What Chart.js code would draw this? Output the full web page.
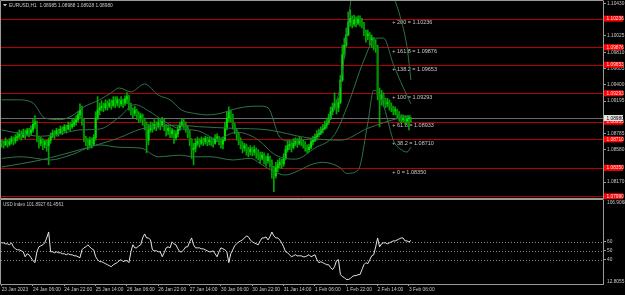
<!DOCTYPE html>
<html>
<head>
<meta charset="utf-8">
<script src="https://cdn.jsdelivr.net/npm/chart.js@4.4.1/dist/chart.umd.min.js"></script>
<style>
  html, body { margin: 0; padding: 0; background: #000; }
  #wrap { position: relative; width: 625px; height: 295px; background: #000; overflow: hidden; }
  #wrap canvas { position: absolute; left: 0; }
  #mainChart { top: 0; }
  #subChart { top: 199px; }
</style>
</head>
<body>
<div id="wrap">
  <canvas id="mainChart" width="625" height="199"></canvas>
  <canvas id="subChart" width="625" height="96"></canvas>
</div>
<script>
// EURUSD H1, one entry per bar (bar 0 = 23 Jan 14:00)
const closes = [
  1.0866,1.0864,1.0869,1.0865,1.0868,1.0872,1.0869,1.0873,1.0875,1.0878,
  1.0874,1.0879,1.0877,1.0882,1.0879,1.0883,1.0890,1.0893,1.0873,1.0866,
  1.0870,1.0864,1.0868,1.0863,1.0870,1.0875,1.0879,1.0877,1.0882,1.0879,
  1.0884,1.0882,1.0887,1.0884,1.0889,1.0887,1.0890,1.0893,1.0896,1.0902,
  1.0908,1.0896,1.0873,1.0868,1.0864,1.0870,1.0865,1.0873,1.0898,1.0908,
  1.0911,1.0913,1.0911,1.0916,1.0913,1.0917,1.0914,1.0920,1.0917,1.0921,
  1.0916,1.0920,1.0917,1.0922,1.0925,1.0916,1.0908,1.0904,1.0908,1.0902,
  1.0898,1.0901,1.0896,1.0890,1.0870,1.0883,1.0888,1.0885,1.0890,1.0887,
  1.0892,1.0889,1.0894,1.0888,1.0882,1.0885,1.0878,1.0882,1.0873,1.0878,
  1.0884,1.0889,1.0893,1.0890,1.0885,1.0879,1.0870,1.0858,1.0860,1.0866,
  1.0869,1.0866,1.0870,1.0868,1.0872,1.0868,1.0870,1.0869,1.0866,1.0872,
  1.0874,1.0869,1.0865,1.0870,1.0885,1.0898,1.0906,1.0901,1.0889,1.0883,
  1.0878,1.0870,1.0865,1.0860,1.0863,1.0858,1.0855,1.0859,1.0855,1.0858,
  1.0854,1.0851,1.0847,1.0851,1.0846,1.0844,1.0849,1.0842,1.0835,1.0825,
  1.0835,1.0839,1.0842,1.0840,1.0847,1.0858,1.0863,1.0865,1.0861,1.0866,
  1.0869,1.0866,1.0870,1.0868,1.0865,1.0860,1.0858,1.0861,1.0868,1.0870,
  1.0874,1.0877,1.0879,1.0883,1.0885,1.0889,1.0893,1.0898,1.0906,1.0911,
  1.0916,1.0911,1.0918,1.0946,1.0978,1.0990,1.1003,1.1019,1.1024,1.1017,
  1.1022,1.1018,1.1023,1.1021,1.1017,1.1007,1.1002,1.1004,1.0997,1.0999,
  1.0990,1.0987,1.0927,1.0921,1.0927,1.0921,1.0916,1.0918,1.0913,1.0911,
  1.0907,1.0908,1.0903,1.0899,1.0896,1.0898,1.0894,1.0897,1.08985,1.0898
];
const highs = [
  1.0870,1.0869,1.0873,1.0870,1.0872,1.0875,1.0874,1.0877,1.0880,1.0883,
  1.0882,1.0884,1.0883,1.0885,1.0885,1.0888,1.0896,1.0901,1.0894,1.0875,
  1.0874,1.0872,1.0870,1.0870,1.0873,1.0879,1.0883,1.0882,1.0885,1.0884,
  1.0888,1.0887,1.0890,1.0889,1.0893,1.0892,1.0896,1.0897,1.0901,1.0906,
  1.0916,1.0913,1.0898,1.0875,1.0872,1.0874,1.0873,1.0877,1.0906,1.0925,
  1.0917,1.0920,1.0917,1.0921,1.0920,1.0922,1.0921,1.0925,1.0925,1.0925,
  1.0922,1.0925,1.0922,1.0926,1.0930,1.0927,1.0917,1.0911,1.0913,1.0909,
  1.0906,1.0904,1.0903,1.0898,1.0893,1.0890,1.0893,1.0892,1.0896,1.0893,
  1.0898,1.0896,1.0899,1.0897,1.0890,1.0889,1.0887,1.0885,1.0883,1.0882,
  1.0888,1.0893,1.0897,1.0896,1.0893,1.0888,1.0882,1.0872,1.0866,1.0872,
  1.0874,1.0872,1.0874,1.0873,1.0875,1.0874,1.0874,1.0873,1.0872,1.0877,
  1.0878,1.0875,1.0872,1.0874,1.0893,1.0906,1.0912,1.0908,1.0903,1.0892,
  1.0885,1.0880,1.0873,1.0868,1.0866,1.0865,1.0861,1.0863,1.0861,1.0863,
  1.0860,1.0858,1.0855,1.0855,1.0854,1.0850,1.0853,1.0850,1.0845,1.0837,
  1.0842,1.0845,1.0847,1.0846,1.0853,1.0863,1.0869,1.0870,1.0868,1.0872,
  1.0873,1.0872,1.0874,1.0873,1.0870,1.0868,1.0864,1.0865,1.0872,1.0875,
  1.0878,1.0882,1.0884,1.0887,1.0890,1.0894,1.0898,1.0903,1.0912,1.0917,
  1.0930,1.0921,1.0923,1.0952,1.0990,1.0999,1.1012,1.1032,1.1035,1.1027,
  1.1028,1.1026,1.1027,1.1027,1.1024,1.1019,1.1009,1.1009,1.1006,1.1003,
  1.1000,1.0997,1.0990,1.0936,1.0933,1.0930,1.0923,1.0923,1.0921,1.0917,
  1.0913,1.0912,1.0909,1.0906,1.0902,1.0902,1.0901,1.0901,1.0901,1.08988
];
const lows = [
  1.0861,1.0860,1.0863,1.0861,1.0863,1.0865,1.0864,1.0866,1.0869,1.0872,
  1.0870,1.0873,1.0872,1.0875,1.0874,1.0877,1.0880,1.0885,1.0868,1.0860,
  1.0863,1.0858,1.0860,1.0856,1.0839,1.0866,1.0873,1.0872,1.0875,1.0875,
  1.0878,1.0877,1.0880,1.0879,1.0883,1.0882,1.0885,1.0887,1.0889,1.0893,
  1.0898,1.0889,1.0868,1.0863,1.0858,1.0860,1.0860,1.0863,1.0870,1.0896,
  1.0902,1.0907,1.0906,1.0908,1.0908,1.0911,1.0909,1.0912,1.0911,1.0913,
  1.0911,1.0913,1.0911,1.0914,1.0916,1.0908,1.0902,1.0898,1.0901,1.0896,
  1.0892,1.0893,1.0889,1.0883,1.0854,1.0864,1.0880,1.0880,1.0883,1.0882,
  1.0885,1.0883,1.0887,1.0882,1.0875,1.0877,1.0873,1.0873,1.0866,1.0870,
  1.0874,1.0882,1.0887,1.0885,1.0880,1.0873,1.0863,1.0847,1.0839,1.0855,
  1.0863,1.0861,1.0864,1.0863,1.0865,1.0863,1.0864,1.0863,1.0861,1.0865,
  1.0868,1.0864,1.0860,1.0859,1.0869,1.0883,1.0893,1.0893,1.0884,1.0878,
  1.0870,1.0864,1.0859,1.0854,1.0856,1.0851,1.0849,1.0851,1.0850,1.0851,
  1.0847,1.0845,1.0841,1.0845,1.0840,1.0837,1.0841,1.0836,1.0822,1.0805,
  1.0822,1.0830,1.0835,1.0834,1.0837,1.0845,1.0855,1.0858,1.0855,1.0859,
  1.0863,1.0861,1.0864,1.0863,1.0860,1.0856,1.0854,1.0855,1.0859,1.0864,
  1.0868,1.0870,1.0874,1.0877,1.0879,1.0883,1.0885,1.0890,1.0896,1.0902,
  1.0908,1.0903,1.0906,1.0916,1.0944,1.0974,1.0988,1.1002,1.1014,1.1012,
  1.1014,1.1013,1.1016,1.1014,1.1012,1.1002,1.0994,1.0997,1.0990,1.0987,
  1.0984,1.0981,1.0921,1.0887,1.0914,1.0913,1.0911,1.0912,1.0908,1.0906,
  1.0902,1.0902,1.0898,1.0894,1.0892,1.0893,1.0890,1.0892,1.0883,1.08928
];
const firstOpen = 1.0869;

// Bollinger bands and slow MA, read at a few bars each
const upperBars = [0,8,16,22,30,36,42,50,56,60,66,73,80,86,92,98,105,112,117,124,132,136,142,147,153,160,165,170,173,176,178,180,190,196,200,204,207,209];
const upperBand = [1.0921,1.0921,1.0917,1.0898,1.0896,1.0901,1.0912,1.0921,1.0930,1.0936,1.0931,1.0941,1.0927,1.0921,1.0908,1.0904,1.0902,1.0904,1.0908,1.0912,1.0913,1.0911,1.0874,1.0869,1.0870,1.0875,1.0889,1.0911,1.0940,1.0997,1.1041,1.1072,1.1075,1.1072,1.1052,1.1022,1.0988,1.0946];
const middleBars = [0,10,20,30,40,50,60,68,75,83,90,100,110,120,130,140,150,160,170,177,185,191,195,200,205,209];
const middleBand = [1.0883,1.0878,1.0875,1.0878,1.0883,1.0884,1.0899,1.0915,1.0907,1.0894,1.0885,1.0882,1.0872,1.0880,1.0872,1.0851,1.0846,1.0860,1.0877,1.0916,1.0971,1.0999,1.0999,1.0966,1.0937,1.0916];
const lowerBars = [0,10,25,35,50,60,71,80,91,98,107,118,127,133,139,145,152,158,164,173,176,182,187,190,193,196,200,204,207,209];
const lowerBand = [1.0847,1.0849,1.0845,1.0851,1.0864,1.0861,1.0860,1.0849,1.0851,1.0849,1.0849,1.0845,1.0847,1.0839,1.0830,1.0826,1.0832,1.0839,1.0842,1.0835,1.0828,1.0832,1.0892,1.0933,1.0927,1.0906,1.0870,1.0858,1.0855,1.0861];
const slowBars = [0,20,40,60,71,90,101,118,136,156,173,187,203,209];
const slowMA = [1.0836,1.0845,1.0858,1.0873,1.0884,1.0889,1.0887,1.0885,1.0883,1.0873,1.0870,1.0885,1.0898,1.0901];

// Fibonacci levels
const fibLevels = ['200','161.8','138.2','100','61.8','38.2','0','-38.2'];
const fibPrices = [1.10236,1.09876,1.09653,1.09293,1.08933,1.08710,1.08350,1.07990];
const fibTextBar = 199.5;

// price axis labels
const priceTicks = [1.10430,1.10025,1.09810,1.09605,1.09400,1.09195,1.08785,1.08580,1.08170];

// USD index oscillator, one value per bar
const usdOsc = [
  58.9,58.9,57.8,57.8,56.7,58.9,54.4,52.2,51.1,51.1,
  50.0,48.9,43.3,46.7,45.6,42.2,38.9,36.7,48.9,54.4,
  55.6,56.7,58.9,64.4,71.1,48.9,48.9,47.8,48.9,47.8,
  47.8,46.7,46.7,45.6,46.7,45.6,45.6,44.4,44.4,43.3,
  42.2,51.1,53.3,54.4,56.7,54.4,52.2,51.1,43.3,40.0,
  37.8,37.8,36.7,35.6,34.4,33.3,32.2,34.4,35.6,36.7,
  38.9,40.0,37.8,38.9,38.9,36.7,48.9,56.7,53.3,53.3,
  55.6,56.7,64.4,68.9,64.4,64.4,62.2,51.1,50.0,50.0,
  48.9,48.9,43.3,47.8,53.3,54.4,53.3,60.0,57.8,56.7,
  52.2,48.9,48.9,51.1,54.4,54.4,60.0,64.4,56.7,53.3,
  53.3,53.3,52.2,52.2,51.1,50.0,48.9,48.9,50.0,46.7,
  43.3,48.9,53.3,52.2,51.1,48.9,36.7,46.7,51.1,55.6,
  57.8,60.0,61.1,62.2,64.4,66.7,65.6,62.2,60.0,58.9,
  57.8,56.7,61.1,64.4,64.4,65.6,62.2,65.6,71.1,66.7,
  64.4,64.4,62.2,58.9,54.4,48.9,47.8,45.6,43.3,44.4,
  45.6,44.4,44.4,44.4,43.3,43.3,44.4,45.6,43.3,44.4,
  45.6,40.0,36.7,37.8,36.7,35.6,34.4,34.4,31.1,28.9,
  32.2,38.9,40.0,23.3,21.1,20.0,17.8,17.8,18.9,21.1,
  22.2,22.2,23.3,23.3,28.9,34.4,36.7,35.6,40.0,44.4,
  45.6,54.4,64.4,54.4,57.8,58.9,58.9,57.8,58.9,60.0,
  61.1,61.1,62.2,63.3,64.4,64.4,61.1,61.1,60.0,61.4561
];
const oscLevels = [60, 50, 40];
const oscMax = 106.9068;
const oscMin = 12.8055;
const usdIndexValue = 101.8927;

// time axis
const timeLabels = ['23 Jan 2023','24 Jan 06:00','24 Jan 22:00','25 Jan 14:00','26 Jan 06:00','26 Jan 22:00','27 Jan 14:00','30 Jan 06:00','30 Jan 22:00','31 Jan 14:00','1 Feb 06:00','1 Feb 22:00','2 Feb 14:00','3 Feb 06:00'];
const timeLabelBars = [0,16,32,48,64,80,96,112,128,144,160,176,192,208];

const FONT = '"Liberation Sans", Arial, sans-serif';
const TEXT = '#c8c8c8';
const FRAME = '#9a9a9a';
const BAND = '#2f7446';
const FIB_RED = '#b80000';
const X_MIN = -0.34, X_MAX = 307.1;
const Y_MIN = 1.07969, Y_MAX = 1.10459;

const opens = closes.map((c, i) => (i === 0 ? firstOpen : closes[i - 1]));
const last = closes.length - 1;
const bars = closes.map((_, i) => i);
const toPts = (xs, ys) => xs.map((b, i) => ({ x: b, y: ys[i] }));

function lineSet(xs, ys) {
  return {
    type: 'line',
    data: toPts(xs, ys),
    borderColor: BAND,
    borderWidth: 1,
    pointRadius: 0,
    cubicInterpolationMode: 'monotone',
    order: 0,
  };
}

function hline(ctx, a, py) {
  ctx.beginPath();
  ctx.moveTo(a.left, py);
  ctx.lineTo(a.right, py);
  ctx.stroke();
}

const mainDecor = {
  id: 'mainDecor',
  beforeDatasetsDraw(chart) {
    const { ctx, chartArea: a, scales: { x, y } } = chart;
    ctx.save();
    ctx.beginPath();
    ctx.rect(a.left, a.top, a.right - a.left, a.bottom - a.top);
    ctx.clip();
    ctx.lineWidth = 1;
    ctx.strokeStyle = '#6c6c6c';
    hline(ctx, a, Math.round(y.getPixelForValue(closes[last])) + 0.5);
    ctx.strokeStyle = FIB_RED;
    fibPrices.forEach((p) => hline(ctx, a, Math.round(y.getPixelForValue(p)) + 0.5));
    ctx.fillStyle = TEXT;
    ctx.font = `5.5px ${FONT}`;
    ctx.textAlign = 'left';
    ctx.textBaseline = 'top';
    const tx = x.getPixelForValue(fibTextBar);
    fibLevels.forEach((lv, i) => {
      ctx.fillText(`+ ${lv} = ${fibPrices[i].toFixed(5)}`, tx, y.getPixelForValue(fibPrices[i]) + 1.5);
    });
    ctx.restore();
  },
  afterDraw(chart) {
    const { ctx, chartArea: a, scales: { y } } = chart;
    ctx.save();
    ctx.strokeStyle = FRAME;
    ctx.lineWidth = 1;
    ctx.beginPath();
    ctx.moveTo(0.5, a.bottom + 0.5);
    ctx.lineTo(0.5, 0.5);
    ctx.lineTo(a.right + 0.5, 0.5);
    ctx.moveTo(0, a.bottom + 0.5);
    ctx.lineTo(a.right, a.bottom + 0.5);
    ctx.stroke();

    // header
    ctx.fillStyle = TEXT;
    ctx.beginPath();
    ctx.moveTo(3, 4);
    ctx.lineTo(7, 4);
    ctx.lineTo(5, 6.5);
    ctx.closePath();
    ctx.fill();
    ctx.font = `4.8px ${FONT}`;
    ctx.textBaseline = 'middle';
    ctx.textAlign = 'left';
    const ohlc = [opens[last], highs[last], lows[last], closes[last]].map((v) => v.toFixed(5)).join(' ');
    ctx.fillText(`EURUSD,H1  ${ohlc}`, 9, 5.5);

    // price tags on the axis
    ctx.font = `4.8px ${FONT}`;
    fibPrices.forEach((p) => {
      const py = y.getPixelForValue(p);
      ctx.fillStyle = '#ff0000';
      ctx.fillRect(a.right + 1, py - 3, 19, 6);
      ctx.fillStyle = '#ffe0e0';
      ctx.fillText(p.toFixed(5), a.right + 3.5, py + 0.3);
    });
    const cy = y.getPixelForValue(closes[last]);
    ctx.fillStyle = '#e6e6e6';
    ctx.fillRect(a.right + 1, cy - 3, 19, 6);
    ctx.fillStyle = '#000000';
    ctx.fillText(closes[last].toFixed(5), a.right + 3.5, cy + 0.3);
    ctx.restore();
  },
};

new Chart(document.getElementById('mainChart'), {
  type: 'bar',
  data: {
    datasets: [
      lineSet(slowBars, slowMA),
      lineSet(upperBars, upperBand),
      lineSet(middleBars, middleBand),
      lineSet(lowerBars, lowerBand),
      {
        data: bars.map((i) => ({ x: i, y: [lows[i], highs[i]] })),
        backgroundColor: '#00a800',
        barThickness: 1,
        grouped: false,
        order: 2,
      },
      {
        data: bars.map((i) => ({ x: i, y: [opens[i], closes[i]] })),
        backgroundColor: bars.map((i) => (closes[i] >= opens[i] ? '#00e000' : '#008c00')),
        barThickness: 1.4,
        minBarLength: 1,
        grouped: false,
        order: 1,
      },
    ],
  },
  options: {
    responsive: false,
    animation: false,
    events: [],
    layout: { padding: { left: 1, top: 1, right: 0, bottom: 1 } },
    plugins: { legend: { display: false }, tooltip: { enabled: false } },
    scales: {
      x: { type: 'linear', min: X_MIN, max: X_MAX, offset: false, display: false },
      y: {
        position: 'right',
        min: Y_MIN,
        max: Y_MAX,
        afterBuildTicks: (s) => { s.ticks = priceTicks.map((v) => ({ value: v })); },
        afterFit: (s) => { s.width = 22; s.paddingTop = 0; s.paddingBottom = 0; },
        ticks: {
          autoSkip: false,
          padding: 1,
          color: TEXT,
          font: { family: FONT, size: 4.8 },
          callback: (v) => Number(v).toFixed(5),
        },
        grid: { drawOnChartArea: false, drawTicks: true, tickLength: 3, color: FRAME },
        border: { display: true, color: FRAME },
      },
    },
  },
  plugins: [mainDecor],
});

const subDecor = {
  id: 'subDecor',
  beforeDatasetsDraw(chart) {
    const { ctx, chartArea: a, scales: { y } } = chart;
    ctx.save();
    ctx.strokeStyle = '#8a8a8a';
    ctx.lineWidth = 1;
    ctx.setLineDash([1, 2]);
    oscLevels.forEach((v) => hline(ctx, a, Math.round(y.getPixelForValue(v)) + 0.5));
    ctx.restore();
  },
  afterDraw(chart) {
    const { ctx, chartArea: a } = chart;
    ctx.save();
    ctx.strokeStyle = FRAME;
    ctx.lineWidth = 1;
    ctx.beginPath();
    ctx.moveTo(0.5, a.bottom + 0.5);
    ctx.lineTo(0.5, 0.5);
    ctx.lineTo(a.right + 0.5, 0.5);
    ctx.stroke();
    ctx.fillStyle = TEXT;
    ctx.font = `4.6px ${FONT}`;
    ctx.textAlign = 'left';
    ctx.textBaseline = 'middle';
    ctx.fillText(`USD Index ${usdIndexValue.toFixed(4)} ${usdOsc[last].toFixed(4)}`, 3, 5.5);
    ctx.font = `4.8px ${FONT}`;
    ctx.fillText(oscMax.toFixed(4), a.right + 4, a.top + 2.5);
    ctx.fillText(oscMin.toFixed(4), a.right + 4, a.bottom - 2);
    ctx.restore();
  },
};

new Chart(document.getElementById('subChart'), {
  type: 'line',
  data: {
    datasets: [{
      data: bars.map((i) => ({ x: i, y: usdOsc[i] })),
      borderColor: '#e4e4e4',
      borderWidth: 1,
      pointRadius: 0,
      tension: 0,
    }],
  },
  options: {
    responsive: false,
    animation: false,
    events: [],
    layout: { padding: { left: 1, top: 1, right: 0, bottom: 0 } },
    plugins: { legend: { display: false }, tooltip: { enabled: false } },
    scales: {
      x: {
        type: 'linear',
        min: X_MIN,
        max: X_MAX,
        offset: false,
        afterBuildTicks: (s) => { s.ticks = timeLabelBars.map((v) => ({ value: v })); },
        afterFit: (s) => { s.height = 11; s.paddingLeft = 0; s.paddingRight = 0; },
        ticks: {
          autoSkip: false,
          maxRotation: 0,
          minRotation: 0,
          align: 'start',
          padding: 1,
          color: TEXT,
          font: { family: FONT, size: 4.8 },
          callback: (v, i) => timeLabels[i],
        },
        grid: { drawOnChartArea: false, drawTicks: true, tickLength: 2, color: FRAME },
        border: { display: true, color: FRAME },
      },
      y: {
        position: 'right',
        min: oscMin,
        max: oscMax,
        afterBuildTicks: (s) => { s.ticks = oscLevels.map((v) => ({ value: v })); },
        afterFit: (s) => { s.width = 22; s.paddingTop = 0; s.paddingBottom = 0; },
        ticks: {
          autoSkip: false,
          padding: 1,
          color: TEXT,
          font: { family: FONT, size: 4.8 },
        },
        grid: { drawOnChartArea: false, drawTicks: true, tickLength: 3, color: FRAME },
        border: { display: true, color: FRAME },
      },
    },
  },
  plugins: [subDecor],
});
</script>
</body>
</html>
